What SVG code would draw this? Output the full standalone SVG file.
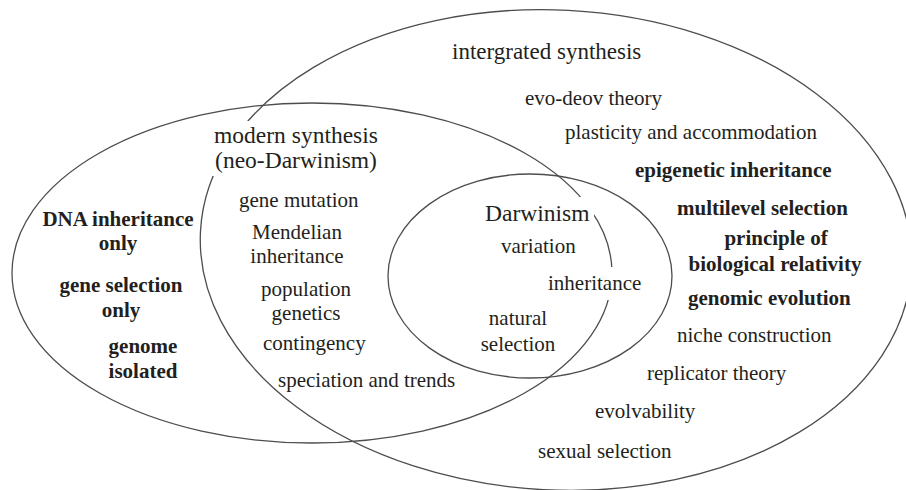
<svg xmlns="http://www.w3.org/2000/svg" width="906" height="490" viewBox="0 0 906 490">
<style>
.ring{fill:none;stroke:#4d4d4d;stroke-width:1.3}
.mask{fill:#fff}
text{font-family:"Liberation Serif","Times New Roman",serif;fill:#231f20}
.t{font-size:23.5px}
.r{font-size:21px}
.b{font-size:21px;font-weight:bold}
.m{text-anchor:middle}
</style>
<rect width="906" height="490" fill="#fff"/>
<g id="integrated-synthesis">
<ellipse class="ring" cx="556" cy="250" rx="356" ry="240" transform="rotate(3 556 250)"/>
<text class="t" x="452" y="59" style="font-size:23px">intergrated synthesis</text>
<text class="r" x="525" y="105">evo-deov theory</text>
<text class="r" x="565" y="139">plasticity and accommodation</text>
<text class="b" x="635" y="177">epigenetic inheritance</text>
<text class="b" x="677" y="215">multilevel selection</text>
<text class="b m" x="776" y="245">principle of</text>
<text class="b m" x="775" y="271">biological relativity</text>
<text class="b" x="688" y="305">genomic evolution</text>
<text class="r" x="677" y="342">niche construction</text>
<text class="r" x="647" y="380">replicator theory</text>
<text class="r" x="595" y="418">evolvability</text>
<text class="r" x="538" y="458">sexual selection</text>
</g>
<g id="modern-synthesis">
<ellipse class="ring" cx="312" cy="273" rx="300" ry="170"/>
<rect class="mask" x="210" y="121" width="172" height="55"/>
<text class="t m" x="296" y="143">modern synthesis</text>
<text class="t m" x="296" y="168">(neo-Darwinism)</text>
<text class="r" x="239" y="207">gene mutation</text>
<text class="r m" x="297" y="239">Mendelian</text>
<text class="r m" x="297" y="263">inheritance</text>
<text class="r m" x="306" y="296">population</text>
<text class="r m" x="306" y="320">genetics</text>
<text class="r" x="263" y="350">contingency</text>
<text class="r" x="278" y="387">speciation and trends</text>
<text class="b m" x="118" y="226">DNA inheritance</text>
<text class="b m" x="118" y="250">only</text>
<text class="b m" x="121" y="292">gene selection</text>
<text class="b m" x="121" y="317">only</text>
<text class="b m" x="143" y="353">genome</text>
<text class="b m" x="143" y="378">isolated</text>
</g>
<g id="darwinism">
<ellipse class="ring" cx="530" cy="276" rx="142" ry="102"/>
<rect class="mask" x="482" y="197" width="112" height="31"/>
<rect class="mask" x="546" y="267" width="98" height="33"/>
<text class="t" x="485" y="221">Darwinism</text>
<text class="r" x="501" y="253">variation</text>
<text class="r" x="548" y="290">inheritance</text>
<text class="r m" x="518" y="325">natural</text>
<text class="r m" x="518" y="351">selection</text>
</g>
<g id="connectors"/>
</svg>
